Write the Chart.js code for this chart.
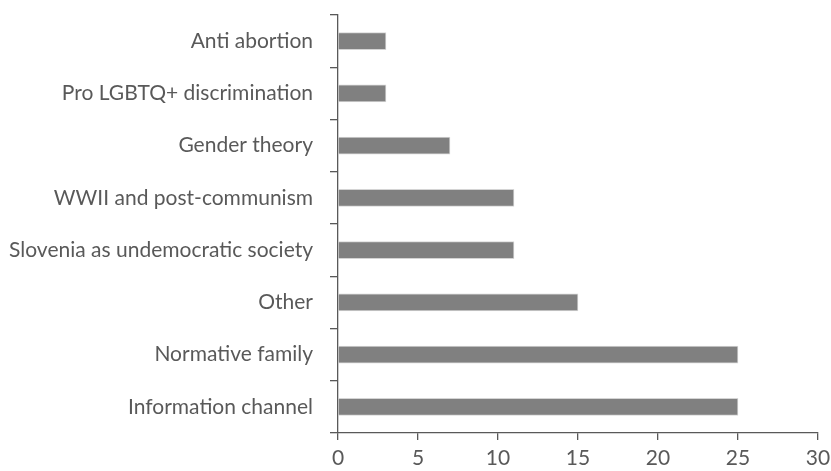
<!DOCTYPE html>
<html>
<head>
<meta charset="utf-8">
<script src="https://cdn.jsdelivr.net/npm/chart.js@4"></script>
<style>
  html, body { margin: 0; padding: 0; background: #fff; }
  #wrap { width: 831px; height: 471px; }
</style>
</head>
<body>
<div id="wrap"><canvas id="grafica"></canvas></div>
<script>
// categorias de arriba hacia abajo
const categorias = [
  "Anti abortion",
  "Pro LGBTQ+ discrimination",
  "Gender theory",
  "WWII and post-communism",
  "Slovenia as undemocratic society",
  "Other",
  "Normative family",
  "Information channel"
];
const valores = [3, 3, 7, 11, 11, 15, 25, 25];
const ejeX = [0, 5, 10, 15, 20, 25, 30];

const colorTexto = "#595959";
const colorEje = "#595959";

const ctx = document.getElementById("grafica").getContext("2d");

new Chart(ctx, {
  type: "bar",
  data: {
    labels: categorias,
    datasets: [{
      data: valores,
      backgroundColor: "#808080",
      borderColor: "#d4d4d4",
      borderWidth: 1,
      borderSkipped: "left",
      barThickness: 17
    }]
  },
  options: {
    indexAxis: "y",
    responsive: true,
    maintainAspectRatio: false,
    animation: false,
    layout: { padding: { top: 15, right: 0, bottom: 0, left: 0 } },
    plugins: {
      legend: { display: false },
      tooltip: { enabled: false }
    },
    scales: {
      x: {
        min: ejeX[0],
        max: ejeX[ejeX.length - 1],
        afterBuildTicks: function(axis) {
          axis.ticks = ejeX.map(v => ({ value: v }));
        },
        afterFit: function(axis) {
          axis.height = 38;
          axis.paddingLeft = 0;
          axis.paddingRight = 13;
        },
        border: { color: colorEje, width: 1.3 },
        grid: { drawOnChartArea: false, drawTicks: true, tickLength: 7, color: colorEje, lineWidth: 1.3 },
        ticks: { color: colorTexto, font: { family: "Lato", size: 21 }, padding: 6 }
      },
      y: {
        afterFit: function(axis) {
          axis.width = 338;
          axis.paddingTop = 0;
          axis.paddingBottom = 0;
        },
        border: { color: colorEje, width: 1.3 },
        grid: { drawOnChartArea: false, drawTicks: true, tickLength: 8, color: colorEje, lineWidth: 1.3, offset: true },
        ticks: { color: colorTexto, font: { family: "Lato", size: 21 }, padding: 17 }
      }
    }
  }
});
</script>
</body>
</html>
